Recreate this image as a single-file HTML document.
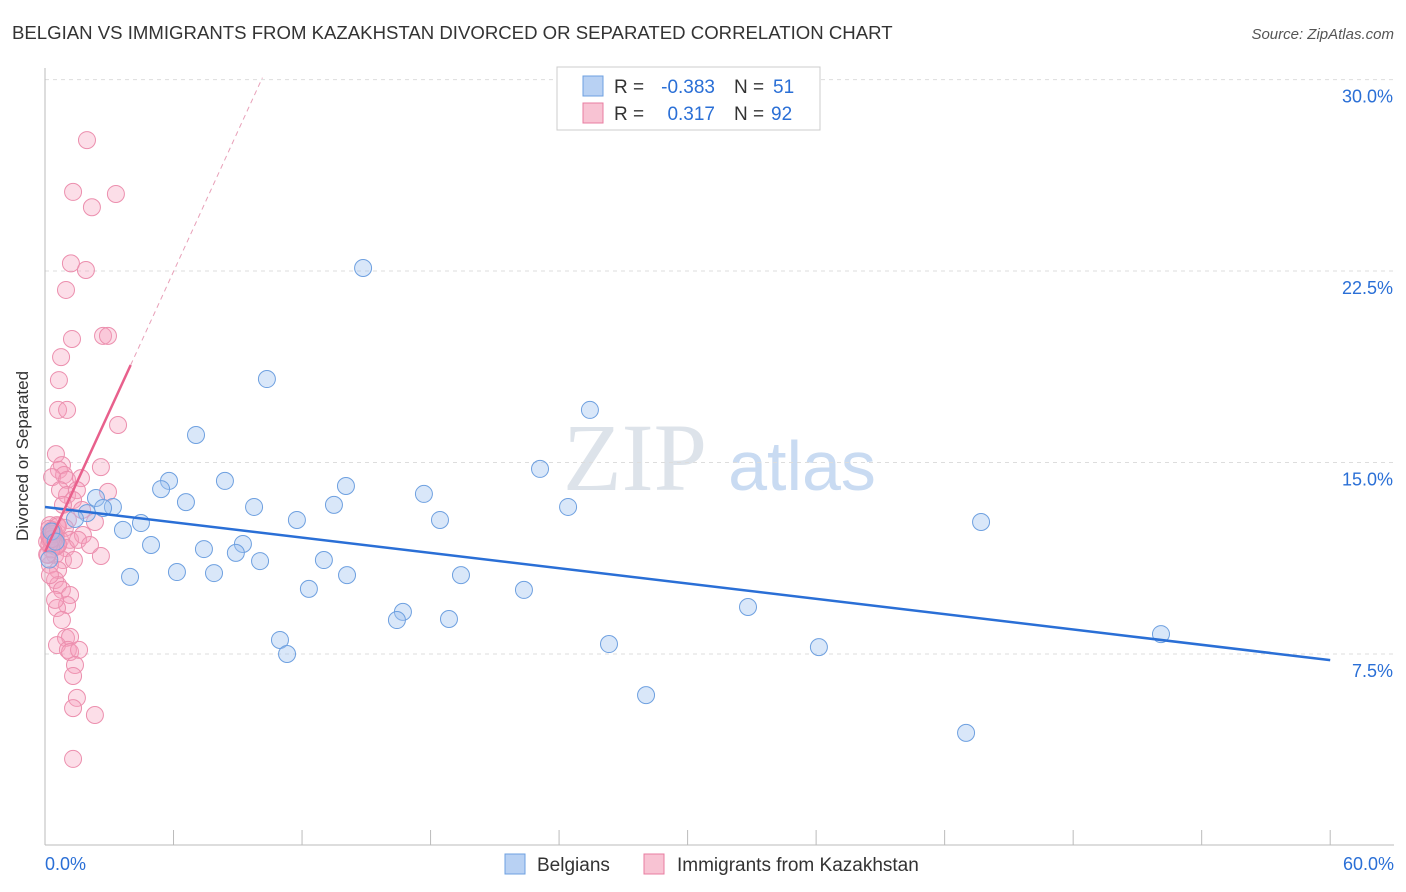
<!DOCTYPE html>
<html><head><meta charset="utf-8"><style>
body{margin:0;background:#fff;font-family:"Liberation Sans",sans-serif;}
svg{display:block}
</style></head><body>
<svg id="chart" width="1406" height="892">
<text x="12" y="39" font-size="18.6" fill="#333">BELGIAN VS IMMIGRANTS FROM KAZAKHSTAN DIVORCED OR SEPARATED CORRELATION CHART</text>
<text x="1394" y="39" font-size="15" fill="#555" font-style="italic" text-anchor="end">Source: ZipAtlas.com</text>
<text x="28" y="456" font-size="17" fill="#333" text-anchor="middle" transform="rotate(-90 28 456)">Divorced or Separated</text>
<text x="635" y="490" font-size="96" fill="#dde3ea" font-family="Liberation Serif,serif" text-anchor="middle">ZIP</text>
<text x="802" y="490" font-size="70" fill="#c9dbf2" text-anchor="middle">atlas</text>
<g id="grid"></g><g id="axes"></g><g id="pink"></g><g id="blue"></g><g id="lines"></g>
<g>
<rect x="557" y="67" width="263" height="63" fill="#fff" stroke="#ccc"/>
<rect x="583" y="76" width="20" height="20" fill="#b8d1f3" stroke="#6ea0e0"/>
<rect x="583" y="103" width="20" height="20" fill="#f8c3d3" stroke="#e87ca0"/>
<text x="614" y="93" font-size="19" fill="#333">R =</text>
<text x="715" y="93" font-size="19" fill="#2a6fd6" text-anchor="end">-0.383</text>
<text x="734" y="93" font-size="19" fill="#333">N =</text>
<text x="773" y="93" font-size="19" fill="#2a6fd6">51</text>
<text x="614" y="120" font-size="19" fill="#333">R =</text>
<text x="715" y="120" font-size="19" fill="#2a6fd6" text-anchor="end">0.317</text>
<text x="734" y="120" font-size="19" fill="#333">N =</text>
<text x="771" y="120" font-size="19" fill="#2a6fd6">92</text>
</g>
<g>
<rect x="505" y="854" width="20" height="20" fill="#b8d1f3" stroke="#6ea0e0"/>
<text x="537" y="871" font-size="19" fill="#333">Belgians</text>
<rect x="644" y="854" width="20" height="20" fill="#f8c3d3" stroke="#e87ca0"/>
<text x="677" y="871" font-size="19" fill="#333">Immigrants from Kazakhstan</text>
</g>
</svg>
<script>
const yTicks=[7.5,15,22.5,30];
const yTickLabels=["7.5%","15.0%","22.5%","30.0%"];
const xTickLabels=["0.0%","60.0%"];
const blueX=[14.85,10.36,25.44,7.05,23.11,5.79,5.42,8.40,14.05,17.69,2.38,6.58,13.49,9.76,3.17,2.71,24.42,1.96,1.40,4.48,11.76,18.44,43.70,3.64,4.95,9.24,7.42,8.91,10.04,13.02,3.97,6.16,7.89,14.10,19.42,12.32,22.36,16.71,16.43,18.86,32.82,10.97,11.30,26.33,36.13,52.10,28.06,43.00,0.3,0.5,0.2];
const blueY=[22.62,18.27,17.06,16.08,14.75,14.28,13.96,14.28,14.08,13.77,13.61,13.45,13.34,13.26,13.26,13.22,13.26,13.02,12.79,12.63,12.75,12.75,12.67,12.36,11.77,11.81,11.61,11.46,11.14,11.18,10.52,10.71,10.67,10.59,10.59,10.05,10.01,9.15,8.83,8.87,9.34,8.05,7.50,7.89,7.77,8.28,5.89,4.41,12.3,11.9,11.2];
const pinkX=[1.96,1.31,3.31,2.19,1.21,1.91,0.98,1.26,2.71,2.94,0.75,0.65,0.61,1.03,3.41,0.51,0.79,0.65,0.89,2.61,0.33,1.03,1.68,0.70,1.03,1.49,2.94,1.31,0.84,1.73,1.07,0.56,0.93,0.33,0.47,0.70,1.17,1.77,0.23,0.61,0.98,1.54,0.47,0.84,1.35,2.61,0.23,0.61,0.47,0.61,0.79,1.17,1.03,0.56,0.79,0.98,1.17,0.56,1.07,1.17,1.59,1.40,1.31,1.49,1.31,2.33,1.31,0.23,0.33,0.14,0.23,0.47,2.33,2.10,0.2,0.3,0.4,0.5,0.6,0.2,0.3,0.4,0.5,0.6,0.1,0.2,0.3,0.4,0.1,0.2,0.3,0.4];
const pinkY=[27.63,25.6,25.52,25.0,22.8,22.54,21.76,19.84,19.96,19.96,19.13,18.23,17.06,17.06,16.47,15.33,14.90,14.71,14.51,14.82,14.43,14.32,14.39,13.92,13.73,13.92,13.85,13.53,13.34,13.14,12.75,12.55,12.44,12.36,12.16,11.97,11.97,12.16,11.97,11.77,11.65,11.97,11.38,11.18,11.18,11.34,10.99,10.79,10.40,10.20,10.01,9.81,9.42,9.30,8.83,8.13,8.17,7.85,7.66,7.58,7.66,7.07,6.64,5.78,5.38,5.11,3.39,12.55,11.77,11.38,10.59,9.62,12.67,11.77,12.2,12.0,11.9,12.1,11.8,12.4,12.3,12.0,11.7,12.5,11.9,12.1,11.6,12.2,11.4,11.8,12.0,12.3];
const blueTrend=[13.26,7.26];
const pinkTrend=[11.5,1.83];
const X=v=>45+v*21.42, Y=v=>654-(v-7.5)*25.53;
const NS="http://www.w3.org/2000/svg";
function mk(tag,attrs,parent){const e=document.createElementNS(NS,tag);for(const k in attrs)e.setAttribute(k,attrs[k]);document.getElementById(parent).appendChild(e);return e;}
yTicks.forEach((t,i)=>{
 const l=mk('line',{x1:45,x2:1394,y1:Y(t),y2:Y(t),stroke:'#ddd','stroke-dasharray':'4,4'},'grid');
 
 
 const tx=mk('text',{x:1393,y:Y(t)+23,'font-size':18,fill:'#2a6fd6','text-anchor':'end'},'axes');
 tx.textContent=yTickLabels[i];
 
 
});
const ax=mk('line',{x1:45,x2:1394,y1:845,y2:845,stroke:'#bbb'},'axes');


const ay=mk('line',{x1:45,x2:45,y1:68,y2:845,stroke:'#bbb'},'axes');


for(let i=0;i<=10;i++){const t=mk('line',{x1:X(i*6),x2:X(i*6),y1:830,y2:845,stroke:'#bbb'},'axes');
 
 }
[[0,'start',45],[60,'end',1394]].forEach((a,i)=>{const t=mk('text',{x:a[2],y:870,'font-size':18,fill:'#2a6fd6','text-anchor':a[1]},'axes');t.textContent=xTickLabels[i];
 
 });
pinkX.forEach((v,i)=>{const c=mk('circle',{cx:X(v),cy:Y(pinkY[i]),r:8.5,fill:'rgba(245,160,190,0.35)',stroke:'#ec8fae','stroke-width':1},'pink');
 
 });
blueX.forEach((v,i)=>{const c=mk('circle',{cx:X(v),cy:Y(blueY[i]),r:8.5,fill:'rgba(160,195,240,0.4)',stroke:'#6ea0e0','stroke-width':1},'blue');
 
 });
const bl=mk('line',{x1:X(0),y1:Y(blueTrend[0]),x2:X(60),y2:Y(blueTrend[1]),stroke:'#2a6fd6','stroke-width':2.5},'lines');


const pl=mk('line',{x1:X(0),y1:Y(pinkTrend[0]),x2:X(4),y2:Y(pinkTrend[0]+4*pinkTrend[1]),stroke:'#e8608c','stroke-width':2.5},'lines');


const pd=mk('line',{x1:X(4),y1:Y(pinkTrend[0]+4*pinkTrend[1]),x2:X(10.15),y2:Y(pinkTrend[0]+10.15*pinkTrend[1]),stroke:'#e8a0b8','stroke-width':1,'stroke-dasharray':'5,4'},'lines');


</script>
</body></html>
